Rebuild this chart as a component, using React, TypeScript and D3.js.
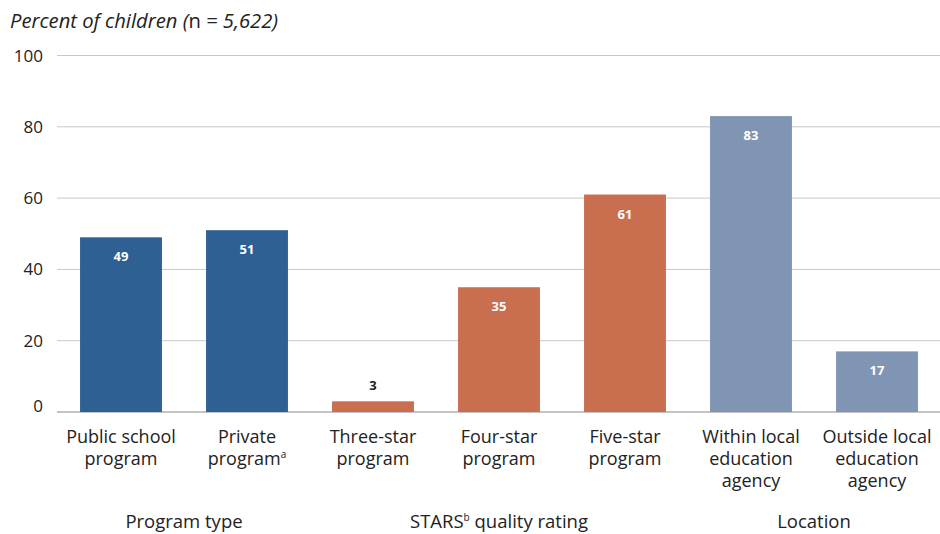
import React from "react";
import * as d3 from "d3";

const categories = [
  ["Public school", "program"],
  ["Private", "program"],
  ["Three-star", "program"],
  ["Four-star", "program"],
  ["Five-star", "program"],
  ["Within local", "education", "agency"],
  ["Outside local", "education", "agency"],
];
const values = [49, 51, 3, 35, 61, 83, 17];
const groupOf = [0, 0, 1, 1, 1, 2, 2];
const groups = ["Program type", "STARS quality rating", "Location"];
const yTicks = [0, 20, 40, 60, 80, 100];
const colors = ["#2E6094", "#C96E4E", "#7F95B3"];

const W = 940;
const H = 534;
const FONT = "'Open Sans', 'Noto Sans', sans-serif";

export default function App() {
  const x = d3
    .scaleBand<number>()
    .domain(values.map((_, i) => i))
    .range([58, 940])
    .paddingInner(0.35)
    .paddingOuter(0.175);
  const y = d3.scaleLinear().domain([0, 100]).range([412, 55.5]);
  const bw = x.bandwidth();
  const cx = (i: number) => (x(i) as number) + bw / 2;

  const groupCenters = groups.map((_, g) => {
    const idx = groupOf.map((gg, i) => (gg === g ? i : -1)).filter((i) => i >= 0);
    return d3.mean(idx.map(cx)) as number;
  });

  return (
    <svg width={W} height={H} style={{ position: "absolute", left: 0, top: 0 }} fontFamily={FONT}>
      <rect width={W} height={H} fill="#fff" />
      <text x={10} y={28} fontSize={20.2} fill="#222" fontStyle="italic">
        Percent of children (<tspan fontStyle="normal">n</tspan> = 5,622)
      </text>
      {yTicks.map((t) => (
        <g key={t}>
          <line x1={57} x2={940} y1={y(t)} y2={y(t)} stroke={t === 0 ? "#b0b0b0" : "#c8c8c8"} strokeWidth={t === 0 ? 1.5 : 1} />
          <text x={43} y={y(t) + (t === 0 ? 0 : 6)} textAnchor="end" fontSize={17} fill="#222">
            {t}
          </text>
        </g>
      ))}
      {values.map((v, i) => (
        <g key={i}>
          <rect x={x(i)} y={y(v)} width={bw} height={y(0) - y(v)} fill={colors[groupOf[i]]} />
          {v >= 10 ? (
            <text x={cx(i)} y={y(v) + 24} textAnchor="middle" fontSize={13} fontWeight="bold" fill="#fff">
              {v}
            </text>
          ) : (
            <text x={cx(i)} y={y(v) - 11} textAnchor="middle" fontSize={13} fontWeight="bold" fill="#222">
              {v}
            </text>
          )}
          {categories[i].map((line, k) => (
            <text key={k} x={cx(i)} y={443 + k * 22} textAnchor="middle" fontSize={18} fill="#222">
              {line}
              {i === 1 && k === 1 ? (
                <tspan fontSize={10} dy={-7}>a</tspan>
              ) : null}
            </text>
          ))}
        </g>
      ))}
      {groups.map((g, gi) => (
        <text key={gi} x={groupCenters[gi]} y={528} textAnchor="middle" fontSize={18.5} fill="#222">
          {gi === 1 ? (
            <>
              STARS<tspan fontSize={10} dy={-7}>b</tspan>
              <tspan dy={7}> quality rating</tspan>
            </>
          ) : (
            g
          )}
        </text>
      ))}
    </svg>
  );
}
